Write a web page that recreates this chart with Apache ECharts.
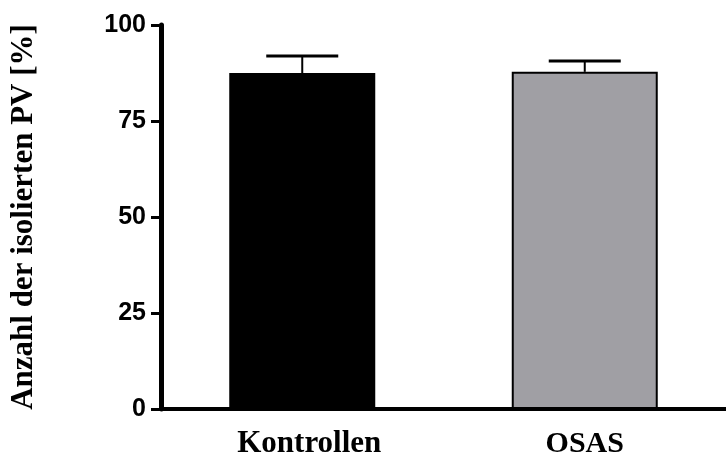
<!DOCTYPE html>
<html>
<head>
<meta charset="utf-8">
<script src="https://cdn.jsdelivr.net/npm/echarts@6/dist/echarts.min.js"></script>
<style>
html,body{margin:0;padding:0;background:#fff;}
#chart{width:726px;height:461px;}
</style>
</head>
<body>
<div id="chart"></div>
<script>
var categories = ['Kontrollen', 'OSAS'];
var means = [87.5, 87.8];
var upperErrors = [91.9, 90.6];
var barColors = ['#000000', '#a09fa4'];
var yTicks = [0, 25, 50, 75, 100];

var chart = echarts.init(document.getElementById('chart'));

var barData = means.map(function (v, i) {
  return { value: v, itemStyle: { color: barColors[i], borderColor: '#000', borderWidth: 2 } };
});
var errData = categories.map(function (c, i) { return [i, means[i], upperErrors[i]]; });

chart.setOption({
  animation: false,
  backgroundColor: '#fff',
  grid: { left: 158, right: -6, top: 25, bottom: 52, containLabel: false },
  xAxis: {
    type: 'category',
    data: categories,
    axisLine: { show: true, lineStyle: { color: '#000', width: 4 } },
    axisTick: { show: false },
    axisLabel: {
      margin: 20,
      fontFamily: 'Liberation Serif',
      fontWeight: 'bold',
      fontSize: 30,
      lineHeight: 30,
      color: '#000',
      formatter: function (v) { return v === 'Kontrollen' ? '{k|' + v + '}' : v; },
      rich: {
        k: { fontFamily: 'Liberation Serif', fontWeight: 'bold', fontSize: 31, lineHeight: 30, color: '#000', padding: [0, 0, 0, 14] }
      }
    }
  },
  yAxis: {
    type: 'value',
    min: 0,
    max: 100,
    interval: 25,
    name: 'Anzahl der isolierten PV [%]',
    nameLocation: 'middle',
    nameGap: 122,
    nameTextStyle: {
      fontFamily: 'Liberation Serif',
      fontWeight: 'bold',
      fontSize: 31,
      color: '#000'
    },
    axisLine: { show: true, lineStyle: { color: '#000', width: 5 } },
    axisTick: { show: true, length: 10, lineStyle: { color: '#000', width: 3 } },
    splitLine: { show: false },
    axisLabel: {
      margin: 15,
      fontFamily: 'Liberation Sans',
      fontWeight: 'bold',
      fontSize: 25,
      color: '#000',
      formatter: function (v) { return yTicks.indexOf(v) >= 0 ? String(v) : ''; }
    }
  },
  series: [
    {
      type: 'bar',
      data: barData,
      barWidth: 146,
      z: 2
    },
    {
      type: 'custom',
      z: 3,
      data: errData,
      renderItem: function (params, api) {
        var x = api.value(0);
        var top = api.coord([x, api.value(1)]);
        var hi = api.coord([x, api.value(2)]);
        var half = 36;
        return {
          type: 'group',
          children: [
            { type: 'line', shape: { x1: top[0], y1: top[1], x2: hi[0], y2: hi[1] }, style: { stroke: '#000', lineWidth: 2 } },
            { type: 'line', shape: { x1: hi[0] - half, y1: hi[1], x2: hi[0] + half, y2: hi[1] }, style: { stroke: '#000', lineWidth: 3 } }
          ]
        };
      }
    }
  ]
});
</script>
</body>
</html>
